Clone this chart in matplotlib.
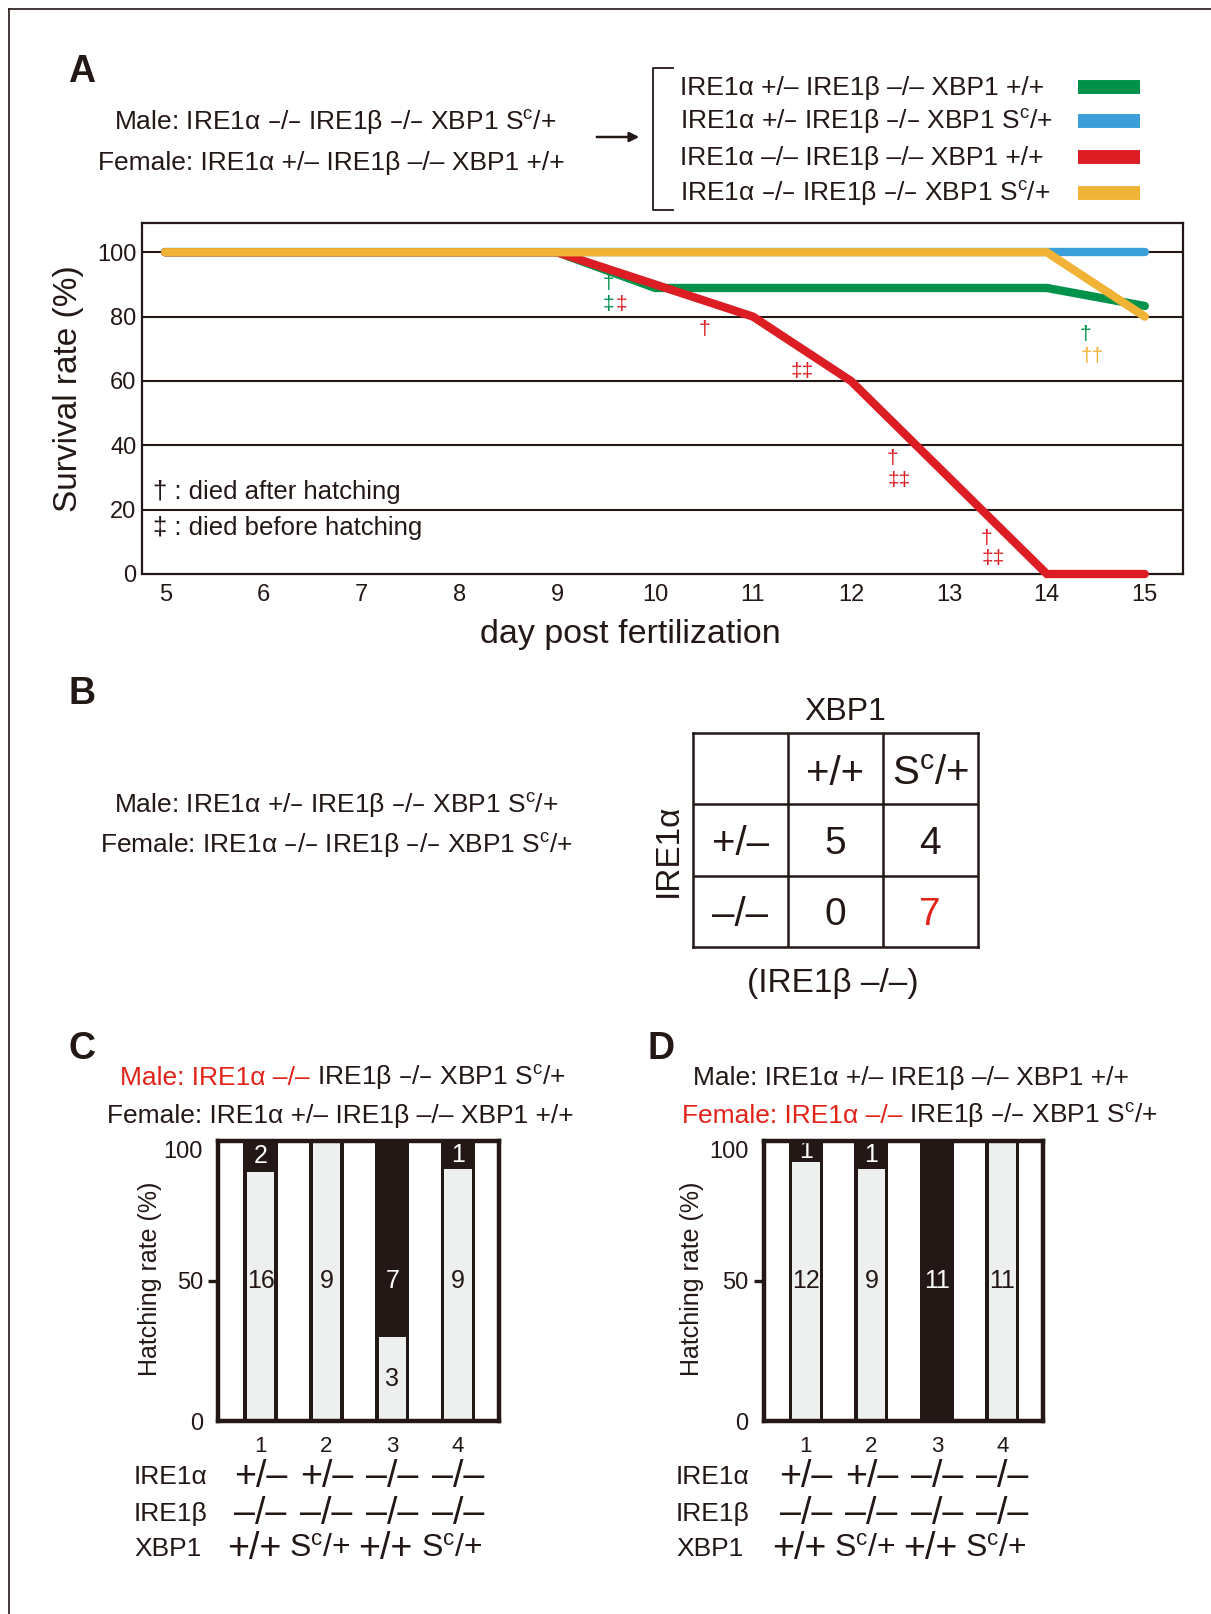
import numpy as np
import matplotlib.pyplot as plt
from matplotlib.lines import Line2D
from matplotlib.patches import FancyArrowPatch
from matplotlib.transforms import blended_transform_factory

plt.rcParams['font.family'] = ['Liberation Sans', 'DejaVu Sans']
plt.rcParams['mathtext.default'] = 'regular'

W, H = 1211, 1614
BLACK = '#231815'
RED = '#e2231a'
GREEN = '#00924a'
BLUE = '#3a9fd8'
LRED = '#dc1e24'
YELLOW = '#f1b335'
GREY = '#eef0ef'

# ---- panel A data ----
days = [5, 6, 7, 8, 9, 10, 11, 12, 13, 14, 15]
surv_green = [100, 100, 100, 100, 100, 88.9, 88.9, 88.9, 88.9, 88.9, 83.3]
surv_blue = [100, 100, 100, 100, 100, 100, 100, 100, 100, 100, 100]
surv_red = [100, 100, 100, 100, 100, 90, 80, 60, 30, 0, 0]
surv_yellow = [100, 100, 100, 100, 100, 100, 100, 100, 100, 100, 80]
line_colors = [GREEN, BLUE, LRED, YELLOW]
geno_labels = ['IRE1α +/– IRE1β –/– XBP1 +/+',
               'IRE1α +/– IRE1β –/– XBP1 S$^c$/+',
               'IRE1α –/– IRE1β –/– XBP1 +/+',
               'IRE1α –/– IRE1β –/– XBP1 S$^c$/+']
# death marks: day, rate, symbol, colour
mark_x = [9.52, 9.52, 9.66, 10.5, 11.5, 12.42, 12.49, 13.38, 13.45, 14.39, 14.46]
mark_y = [90.3, 83.9, 83.9, 76, 62.9, 36, 29.2, 11.1, 4.9, 74.5, 67.5]
mark_s = ['†', '‡', '‡', '†', '‡‡', '†', '‡‡', '†', '‡‡', '†', '††']
mark_c = [GREEN, GREEN, LRED, LRED, LRED, LRED, LRED, LRED, LRED, GREEN, YELLOW]

# ---- panel B data ----
xbp1_cols = ['+/+', 'S$^c$/+']
ire1a_rows = ['+/–', '–/–']
counts_B = [[5, 4], [0, 7]]

# ---- panel C / D data ----
ire1a_geno = ['+/–', '+/–', '–/–', '–/–']
ire1b_geno = ['–/–', '–/–', '–/–', '–/–']
xbp1_geno = ['+/+', 'S$^c$/+', '+/+', 'S$^c$/+']
hatched_C = [16, 9, 3, 9]
died_C = [2, 0, 7, 1]
hatched_D = [12, 9, 0, 11]
died_D = [1, 1, 11, 0]

fig = plt.figure(figsize=(W / 100, H / 100), dpi=100)


def fx(x):
    return x / W


def fy(y):
    return 1 - y / H


def txt(x, y, s, **kw):
    kw.setdefault('color', BLACK)
    return fig.text(fx(x), fy(y), s, **kw)


def px_axes(x0, y0, x1, y1):
    return fig.add_axes([fx(x0), fy(y1), (x1 - x0) / W, (y1 - y0) / H])


def letter(x, y, s):
    txt(x, y, s, fontsize=27, weight='bold', ha='center', va='center',
        family=['Liberation Sans Narrow', 'Liberation Sans'])


# outer frame (top + left)
fig.add_artist(Line2D([fx(9.3), 1], [fy(9.3), fy(9.3)], color=BLACK, lw=1.2))
fig.add_artist(Line2D([fx(9.3), fx(9.3)], [fy(9.3), 0], color=BLACK, lw=1.2))

GFS = 19  # genotype line font size

# ================= A =================
letter(82, 72, 'A')
txt(335, 123, 'Male: IRE1α –/– IRE1β –/– XBP1 S$^c$/+', fontsize=GFS, ha='center', va='center')
txt(331, 163, 'Female: IRE1α +/– IRE1β –/– XBP1 +/+', fontsize=GFS, ha='center', va='center')
fig.add_artist(FancyArrowPatch((fx(594), fy(137)), (fx(642), fy(137)), transform=fig.transFigure,
                               arrowstyle='-|>', mutation_scale=14, lw=1.8, color=BLACK))
fig.add_artist(Line2D([fx(673), fx(652.5), fx(652.5), fx(673)],
                      [fy(68.3), fy(68.3), fy(210), fy(210)], color=BLACK, lw=1.3))
leg_y = [88, 122, 158, 194]
for lab, col, yy in zip(geno_labels, line_colors, leg_y):
    txt(679.5, yy, lab, fontsize=GFS, ha='left', va='center')
    fig.add_artist(Line2D([fx(1078), fx(1140)], [fy(yy - 1), fy(yy - 1)], color=col,
                          lw=10, solid_capstyle='butt'))

axA = px_axes(142, 223.3, 1183, 574)
axA.set_xlim(4.763, 15.39)
axA.set_ylim(0, 109)
for g in [20, 40, 60, 80, 100]:
    axA.axhline(g, color=BLACK, lw=1.5, zorder=1)
for ys, col in zip([surv_blue, surv_green, surv_red, surv_yellow],
                   [BLUE, GREEN, LRED, YELLOW]):
    axA.plot(days, ys, color=col, lw=6, solid_capstyle='round',
             solid_joinstyle='miter', clip_on=False, zorder=3)
for x, y, s, c in zip(mark_x, mark_y, mark_s, mark_c):
    axA.text(x, y, s, color=c, fontsize=15, ha='center', va='center', zorder=4)
axA.text(0.011, (574 - 491.7) / (574 - 223.3), '† : died after hatching', transform=axA.transAxes,
         fontsize=18.5, ha='left', va='center', color=BLACK)
axA.text(0.011, (574 - 528.3) / (574 - 223.3), '‡ : died before hatching', transform=axA.transAxes,
         fontsize=18.5, ha='left', va='center', color=BLACK)
axA.set_xticks(days)
axA.set_yticks([0, 20, 40, 60, 80, 100])
axA.tick_params(axis='both', length=0, labelsize=17, colors=BLACK)
axA.tick_params(axis='x', pad=7)
axA.tick_params(axis='y', pad=4)
for sp in axA.spines.values():
    sp.set_linewidth(1.6)
    sp.set_color(BLACK)
txt(630, 635, 'day post fertilization', fontsize=24.5, ha='center', va='center')
txt(69, 389, 'Survival rate (%)', fontsize=24, ha='center', va='center', rotation=90)

# ================= B =================
letter(82, 694, 'B')
txt(336, 806, 'Male: IRE1α +/– IRE1β –/– XBP1 S$^c$/+', fontsize=GFS, ha='center', va='center')
txt(337, 846, 'Female: IRE1α –/– IRE1β –/– XBP1 S$^c$/+', fontsize=GFS, ha='center', va='center')
axB = px_axes(692.7, 732.7, 977.7, 947.3)
axB.set_xlim(0, 3)
axB.set_ylim(3, 0)
axB.set_xticks([])
axB.set_yticks([])
for sp in axB.spines.values():
    sp.set_linewidth(1.8)
    sp.set_color(BLACK)
for k in [1, 2]:
    axB.axhline(k, color=BLACK, lw=1.8)
    axB.axvline(k, color=BLACK, lw=1.8)
for j, lab in enumerate(xbp1_cols):
    axB.text(j + 1.5, 0.58, lab, fontsize=29, ha='center', va='center', color=BLACK)
for i, lab in enumerate(ire1a_rows):
    axB.text(0.5, i + 1.55, lab, fontsize=29, ha='center', va='center', color=BLACK)
    for j in range(2):
        c = RED if counts_B[i][j] == 7 else BLACK
        axB.text(j + 1.5, i + 1.55, str(counts_B[i][j]), fontsize=28,
                 ha='center', va='center', color=c)
txt(845, 712, 'XBP1', fontsize=23, ha='center', va='center')
txt(668, 850, 'IRE1α', fontsize=24, ha='center', va='center', rotation=90)
txt(833, 983, '(IRE1β –/–)', fontsize=24, ha='center', va='center')


# ================= C / D =================
def hatch_panel(box, hatched, died):
    ax = px_axes(*box)
    x = np.arange(1, 5)
    h = np.array(hatched, float)
    d = np.array(died, float)
    pct = 100 * h / (h + d)
    ax.bar(x, 100, width=0.52, color=BLACK, zorder=2)
    ax.bar(x, pct, width=0.52 * 0.8, color=GREY, zorder=3)
    for xi, p, hn, dn in zip(x, pct, hatched, died):
        if hn > 0:
            yl = 50 if p >= 50 else p / 2
            ax.text(xi, yl, str(hn), color=BLACK, fontsize=18, ha='center', va='center', zorder=4)
        if dn > 0:
            yl = 50 if p <= 50 else (100 + p) / 2
            ax.text(xi, yl, str(dn), color='white', fontsize=18, ha='center', va='center', zorder=4)
    ax.set_xlim(0.36, 4.62)
    ax.set_ylim(0, 100)
    ax.set_xticks([])
    ax.set_yticks([0, 50, 100])
    ax.tick_params(axis='y', length=7, width=2.4, direction='out', labelsize=17,
                   colors=BLACK, pad=4)
    ticks = ax.yaxis.get_major_ticks()
    ticks[0].tick1line.set_visible(False)
    ticks[2].tick1line.set_visible(False)
    ticks[2].label1.set_va('top')
    for sp in ax.spines.values():
        sp.set_linewidth(3.2)
        sp.set_color(BLACK)
        sp.set_zorder(5)
    tr = blended_transform_factory(ax.transData, fig.transFigure)
    for xi in x:
        ax.text(xi, fy(1436), str(xi), transform=tr, fontsize=16, ha='center', va='top', color=BLACK)
    for xi, a, b, c in zip(x, ire1a_geno, ire1b_geno, xbp1_geno):
        ax.text(xi, fy(1477), a, transform=tr, fontsize=27, ha='center', va='center', color=BLACK)
        ax.text(xi, fy(1514), b, transform=tr, fontsize=27, ha='center', va='center', color=BLACK)
        fs = 23 if 'S' in c else 27
        ax.text(xi - 0.1, fy(1549), c, transform=tr, fontsize=fs, ha='center', va='center', color=BLACK)
    return ax


def two_color_line(x0, y, red_part, black_part):
    t1 = txt(x0, y, red_part, fontsize=GFS, ha='left', va='center', color=RED)
    r = fig.canvas.get_renderer()
    bb = t1.get_window_extent(renderer=r)
    txt(bb.x1, y, black_part, fontsize=GFS, ha='left', va='center')


letter(82, 1049, 'C')
two_color_line(120, 1078, 'Male: IRE1α –/–', ' IRE1β –/– XBP1 S$^c$/+')
txt(340, 1116, 'Female: IRE1α +/– IRE1β –/– XBP1 +/+', fontsize=GFS, ha='center', va='center')
axC = hatch_panel((218.4, 1140.5, 499, 1421), hatched_C, died_C)
txt(150, 1279, 'Hatching rate (%)', fontsize=18, ha='center', va='center', rotation=90)
txt(134, 1477, 'IRE1α', fontsize=19, ha='left', va='center')
txt(134, 1514, 'IRE1β', fontsize=19, ha='left', va='center')
txt(134, 1549, 'XBP1', fontsize=19, ha='left', va='center')

letter(661, 1049, 'D')
txt(911, 1078, 'Male: IRE1α +/– IRE1β –/– XBP1 +/+', fontsize=GFS, ha='center', va='center')
two_color_line(682, 1116, 'Female: IRE1α –/–', ' IRE1β –/– XBP1 S$^c$/+')
axD = hatch_panel((764, 1140.5, 1043, 1421), hatched_D, died_D)
txt(692, 1279, 'Hatching rate (%)', fontsize=18, ha='center', va='center', rotation=90)
txt(676, 1477, 'IRE1α', fontsize=19, ha='left', va='center')
txt(676, 1514, 'IRE1β', fontsize=19, ha='left', va='center')
txt(676, 1549, 'XBP1', fontsize=19, ha='left', va='center')

fig.savefig('out.png', dpi=100, facecolor='white')
